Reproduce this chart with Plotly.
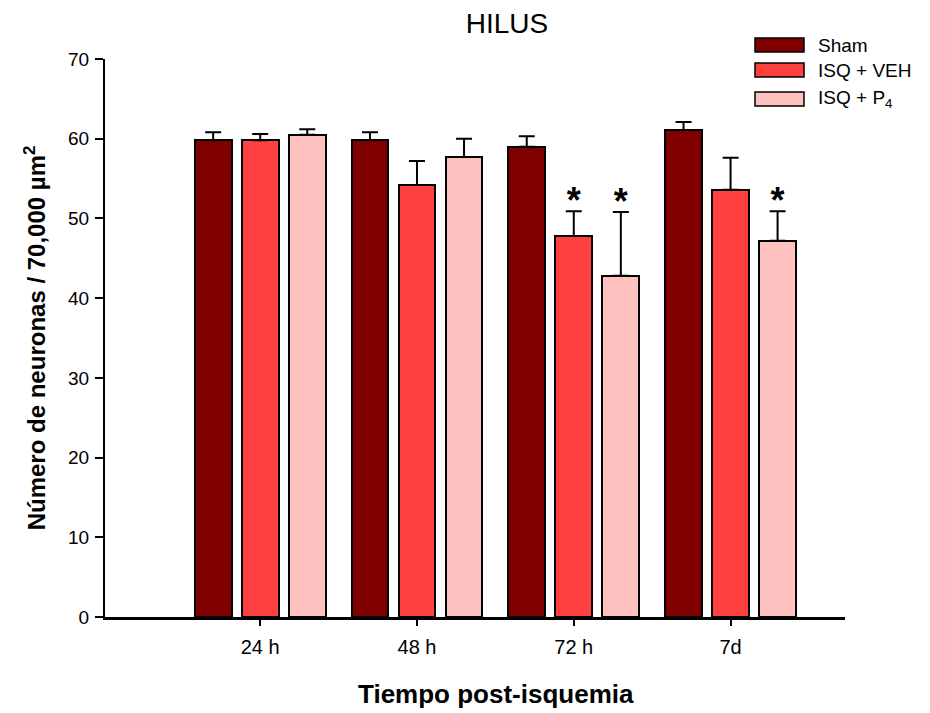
import plotly.graph_objects as go

categories = ["24 h", "48 h", "72 h", "7d"]
groups = ["Sham", "ISQ + VEH", "ISQ + P<sub>4</sub>"]
sham = [59.8, 59.8, 59.0, 61.1]
sham_err = [1.0, 1.0, 1.3, 1.0]
veh = [59.8, 54.2, 47.8, 53.6]
veh_err = [0.8, 3.0, 3.1, 4.0]
p4 = [60.5, 57.7, 42.8, 47.2]
p4_err = [0.7, 2.3, 8.0, 3.7]
sig_veh = [False, False, True, False]
sig_p4 = [False, False, True, True]

colors = ["#800000", "#FF4040", "#FFC0C0"]
values = [sham, veh, p4]
errors = [sham_err, veh_err, p4_err]
sigs = [[False] * 4, sig_veh, sig_p4]
offsets = [-0.30, 0.0, 0.30]
bar_w = 0.235

FONT = "Liberation Sans, Arial, sans-serif"

fig = go.Figure()
xs = list(range(len(categories)))
for name, col, vals, errs, off in zip(groups, colors, values, errors, offsets):
    fig.add_trace(go.Bar(
        x=[x + off for x in xs], y=vals, width=bar_w, name=name,
        marker=dict(color=col, line=dict(color="black", width=2)),
        error_y=dict(type="data", array=errs, arrayminus=[0] * len(errs),
                     symmetric=False, color="black", thickness=2, width=8),
        showlegend=False,
    ))

# significance asterisks
for vals, errs, sg, off in zip(values, errors, sigs, offsets):
    sx = [x + off for x, s in zip(xs, sg) if s]
    sy = [v + e + 0.9 for v, e, s in zip(vals, errs, sg) if s]
    if sx:
        fig.add_trace(go.Scatter(
            x=sx, y=sy, mode="text", text=["<b>*</b>"] * len(sx),
            textfont=dict(size=36, color="black", family=FONT),
            textposition="middle center", showlegend=False, hoverinfo="skip",
        ))

# custom legend (boxes + labels), positions in pixels converted to paper
PLOT_TOP, PLOT_BOT, PLOT_L, PLOT_R = 59, 617, 105, 845
def px_x(p):
    return (p - PLOT_L) / (PLOT_R - PLOT_L)
def px_y(p):
    return (PLOT_BOT - p) / (PLOT_BOT - PLOT_TOP)

row_centers = [45, 70, 99]
for name, col, yc in zip(groups, colors, row_centers):
    fig.add_shape(type="rect", xref="paper", yref="paper",
                  x0=px_x(755), x1=px_x(804),
                  y0=px_y(yc + 7), y1=px_y(yc - 7),
                  fillcolor=col, line=dict(color="black", width=1.5))
    fig.add_annotation(xref="paper", yref="paper",
                       x=px_x(816), y=px_y(yc), text=name,
                       showarrow=False, xanchor="left", yanchor="middle",
                       font=dict(size=19, color="black", family=FONT))

# x-axis title (offset to the right like the reference)
fig.add_annotation(xref="paper", yref="paper", x=px_x(496), y=px_y(694),
                   text="<b>Tiempo post-isquemia</b>", showarrow=False,
                   xanchor="center", yanchor="middle",
                   font=dict(size=26, color="black", family=FONT))

fig.update_layout(
    width=930, height=713,
    margin=dict(l=PLOT_L, r=930 - PLOT_R, t=PLOT_TOP, b=713 - PLOT_BOT),
    paper_bgcolor="white", plot_bgcolor="white",
    title=dict(text="HILUS", x=507 / 930, xanchor="center", y=1 - 23 / 713,
               yanchor="middle",
               font=dict(size=28, color="black", family=FONT)),
    font=dict(family=FONT, color="black"),
    xaxis=dict(
        range=[-0.99, 3.73], tickmode="array", tickvals=xs, ticktext=categories,
        showline=True, linecolor="black", linewidth=3, ticks="outside",
        ticklen=6, tickwidth=2, tickcolor="black", showgrid=False, zeroline=False,
        ticklabelstandoff=4,
        tickfont=dict(size=20, family=FONT),
    ),
    yaxis=dict(
        range=[0, 70], tickvals=[0, 10, 20, 30, 40, 50, 60, 70],
        showline=True, linecolor="black", linewidth=2, ticks="outside",
        ticklen=8, tickwidth=1.5, tickcolor="black", showgrid=False, zeroline=False,
        ticklabelstandoff=2,
        tickfont=dict(size=19, family=FONT),
        title=dict(text="<b>Número de neuronas / 70,000 µm<sup>2</sup></b>", standoff=16,
                   font=dict(size=24, family=FONT)),
    ),
    bargap=0,
)

fig.write_html("out.html")
